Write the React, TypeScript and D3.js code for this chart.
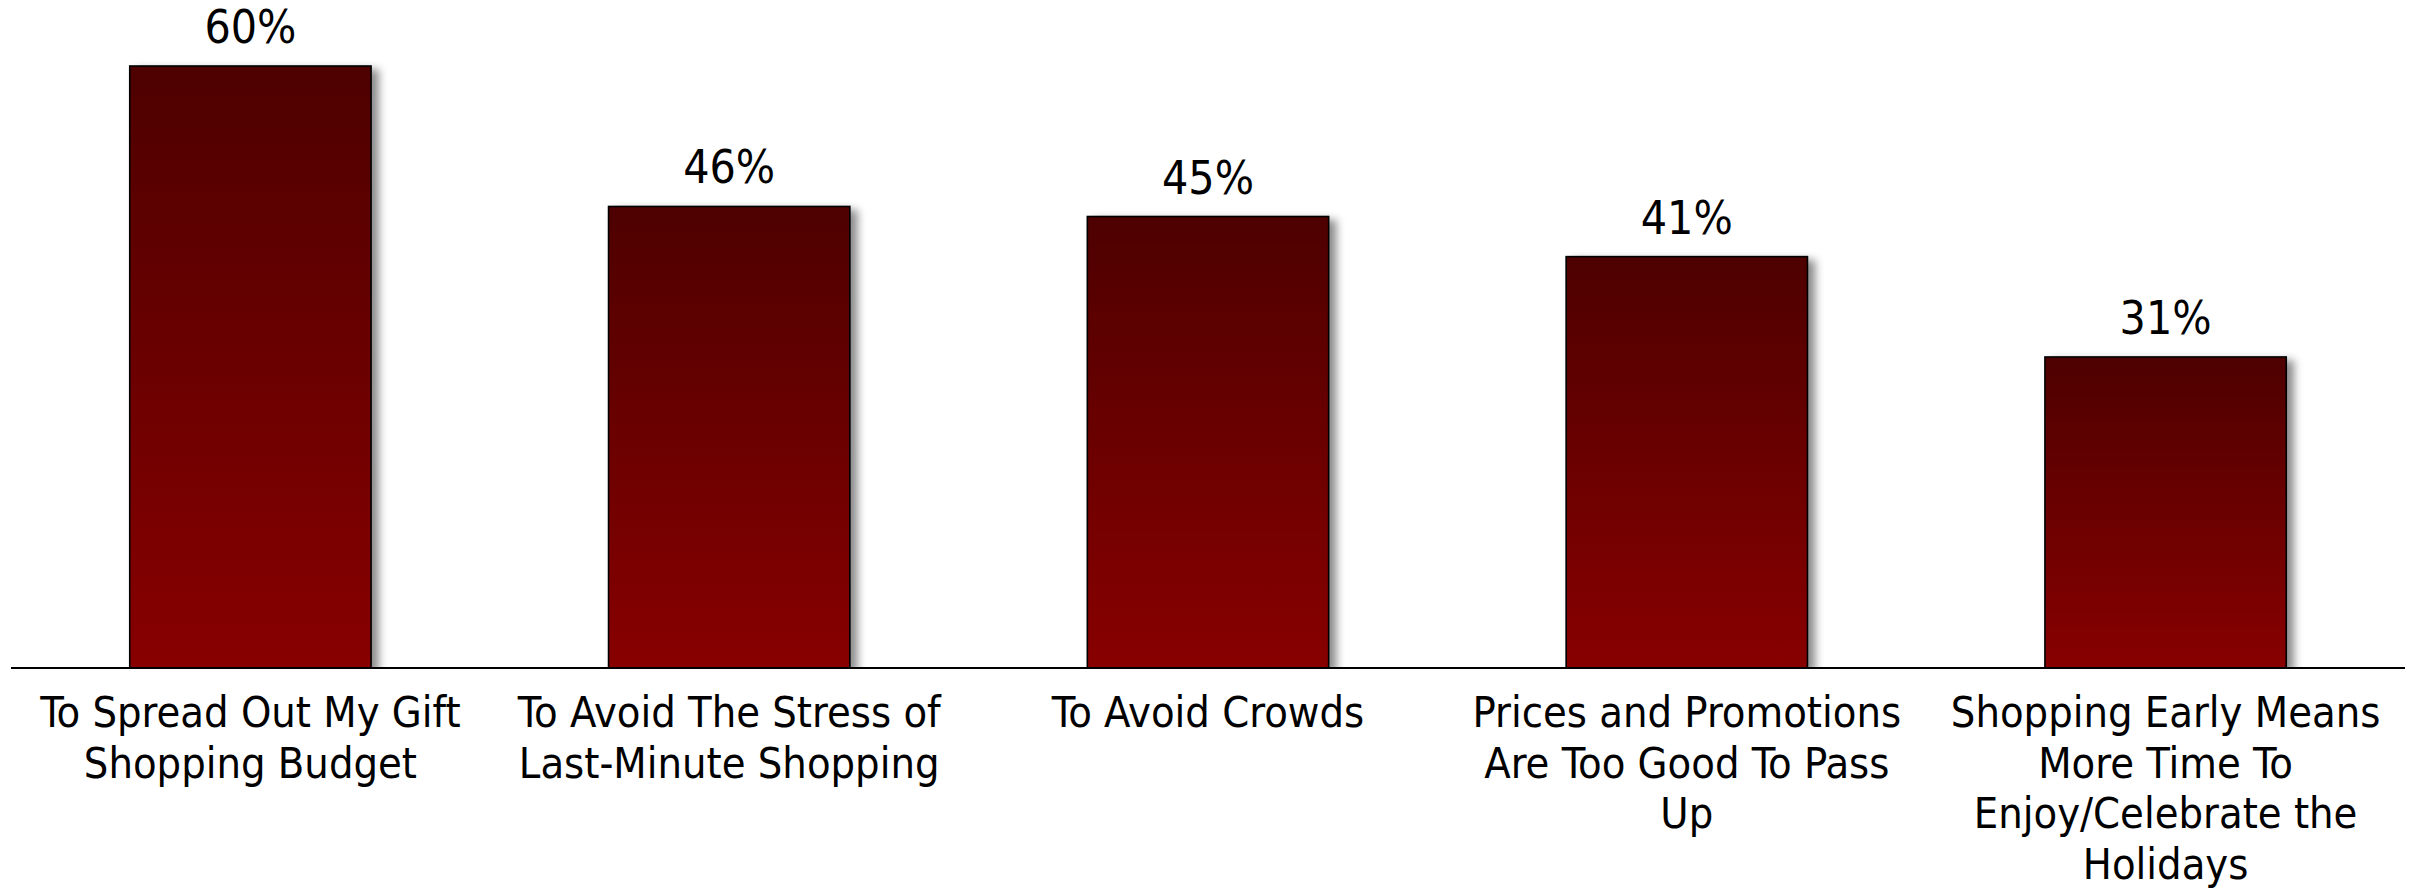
import React from "react";
import * as d3 from "d3";

const categories: string[] = [
  "To Spread Out My Gift\nShopping Budget",
  "To Avoid The Stress of\nLast-Minute Shopping",
  "To Avoid Crowds",
  "Prices and Promotions\nAre Too Good To Pass\nUp",
  "Shopping Early Means\nMore Time To\nEnjoy/Celebrate the\nHolidays",
];
const values: number[] = [60, 46, 45, 41, 31];

const W = 2410;
const H = 889;
const FONT = "'DejaVu Sans Condensed', 'DejaVu Sans', sans-serif";

export default function App() {
  const baseY = 668;
  const x0 = 11;
  const x1 = 2405;
  const x = d3.scaleBand<number>().domain(d3.range(values.length)).range([x0, x1]).paddingInner(0.496).paddingOuter(0.248);
  const y = d3.scaleLinear().domain([0, 60]).range([baseY, 66]);
  const bw = x.bandwidth();
  return (
    <svg width={W} height={H} style={{ position: "absolute", left: 0, top: 0, background: "#fff" }}>
      <defs>
        <linearGradient id="barGrad" x1="0" y1="0" x2="0" y2="1">
          <stop offset="0" stopColor="#4e0000" />
          <stop offset="1" stopColor="#880000" />
        </linearGradient>
        <filter id="shadow" x="-20%" y="-20%" width="140%" height="140%">
          <feDropShadow dx="7" dy="4" stdDeviation="4" floodColor="#000" floodOpacity="0.45" />
        </filter>
        <clipPath id="plotClip">
          <rect x={0} y={0} width={W} height={baseY} />
        </clipPath>
      </defs>
      <g clipPath="url(#plotClip)">
        {values.map((v, i) => (
          <rect
            key={i}
            x={x(i)!}
            y={y(v)}
            width={bw}
            height={baseY - y(v)}
            fill="url(#barGrad)"
            stroke="#000"
            strokeWidth={1.6}
            filter="url(#shadow)"
          />
        ))}
      </g>
      <line x1={x0} x2={x1} y1={baseY} y2={baseY} stroke="#000" strokeWidth={2.2} />
      {values.map((v, i) => (
        <text
          key={"v" + i}
          x={x(i)! + bw / 2}
          y={y(v) - 23}
          textAnchor="middle"
          fontFamily={FONT}
          fontSize={46}
          fill="#000"
        >
          {v}%
        </text>
      ))}
      {categories.map((c, i) => (
        <text
          key={"c" + i}
          textAnchor="middle"
          fontFamily={FONT}
          fontSize={43}
          fill="#000"
        >
          {c.split("\n").map((line, j) => (
            <tspan key={j} x={x(i)! + bw / 2} y={727 + j * 50.5}>
              {line}
            </tspan>
          ))}
        </text>
      ))}
    </svg>
  );
}
